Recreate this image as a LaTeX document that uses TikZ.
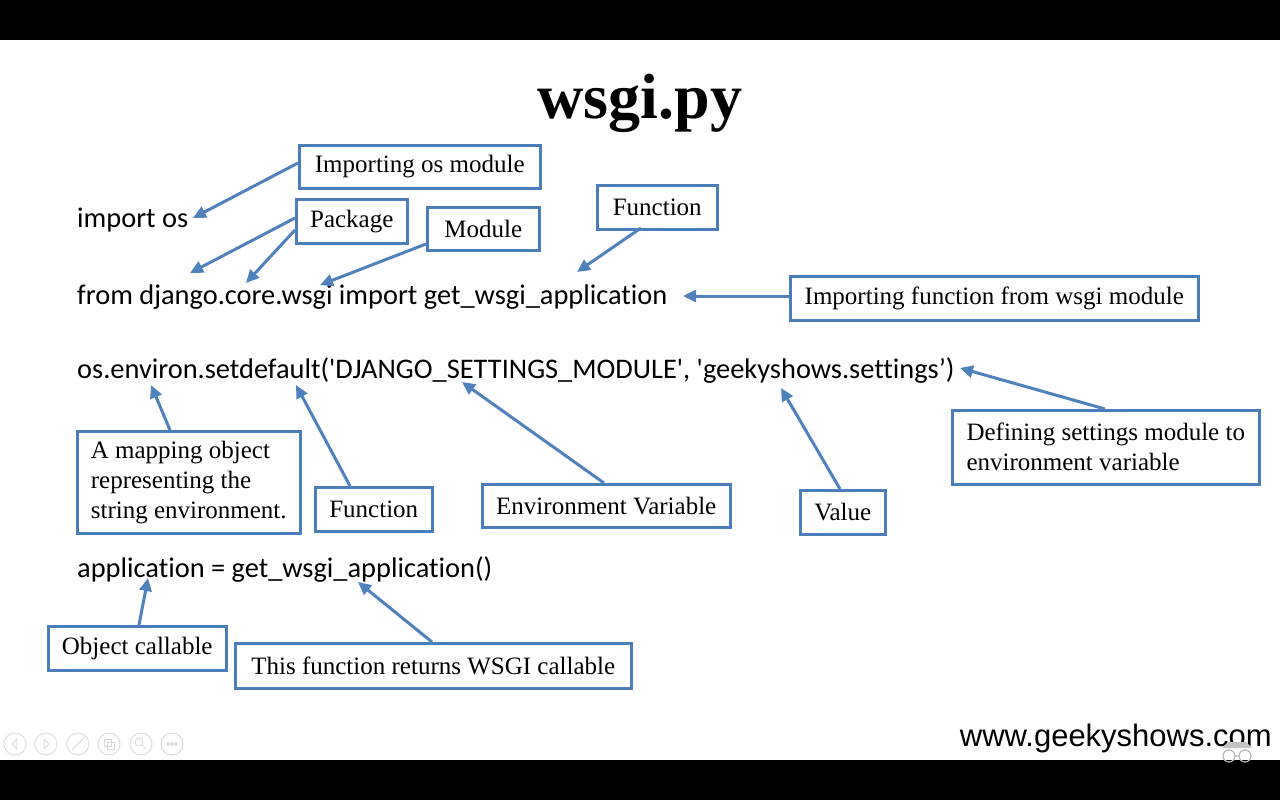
\documentclass[tikz,border=0pt]{standalone}
\usepackage{fontspec}
\setmainfont{Liberation Serif}
\newfontfamily\codefont[Ligatures={NoCommon}]{Carlito}
\newfontfamily\webfont{Liberation Sans}
\usetikzlibrary{arrows.meta}
\definecolor{boxblue}{RGB}{74,126,187}
\definecolor{arrblue}{RGB}{79,129,189}
\definecolor{icongray}{RGB}{215,215,215}
\begin{document}
\begin{tikzpicture}[x=1pt,y=-1pt,
  lbl/.style={draw=boxblue, line width=2.5pt, fill=white, font=\fontsize{25}{30}\selectfont, inner sep=3pt, anchor=north west},
  code/.style={font=\codefont\fontsize{28.4}{34}\selectfont, anchor=base west, inner sep=0pt},
  arr/.style={draw=arrblue, line width=3pt, -{Triangle[length=13pt,width=12pt]}},
  icon/.style={draw=icongray, line width=0.8pt},
]
\useasboundingbox (0,0) rectangle (1280,800);
\fill[white] (0,0) rectangle (1280,800);
\fill[black] (0,0) rectangle (1280,40);
\fill[black] (0,760) rectangle (1280,800);

% title
\node[font=\bfseries\fontsize{64}{70}\selectfont, anchor=base, inner sep=0pt] (title) at (640,118) {wsgi.py};

% code lines
\node[code] (c1) at (77,227) {import os};
\node[code] (c2) at (77,304) {from django.core.wsgi import get\_wsgi\_application};
\node[code] (c3) at (77,378) {os.environ.setdefault('DJANGO\_SETTINGS\_MODULE', 'geekyshows.settings’)};
\node[code] (c4) at (77,577) {application = get\_wsgi\_application()};

% label boxes
\node[lbl, minimum width=241pt, minimum height=43pt] (b1) at (298,144) {Importing os module};
\node[lbl, minimum width=111pt, minimum height=44pt] (b2) at (295,198) {Package};
\node[lbl, minimum width=112pt, minimum height=43pt] (b3) at (426,206) {Module};
\node[lbl, minimum width=120pt, minimum height=44pt] (b4) at (596,184) {Function};
\node[lbl, minimum width=408pt, minimum height=44pt] (b5) at (789,275) {Importing function from wsgi module};
\node[lbl, minimum width=223pt, minimum height=102pt, align=left] (b6) at (76,430) {A mapping object\\representing the\\string environment.};
\node[lbl, minimum width=117pt, minimum height=44pt] (b7) at (314,486) {Function};
\node[lbl, minimum width=248pt, minimum height=43pt] (b8) at (481,483) {Environment Variable};
\node[lbl, minimum width=85pt, minimum height=44pt] (b9) at (799,489) {Value};
\node[lbl, minimum width=307pt, minimum height=74pt, align=left] (b10) at (951,409) {Defining settings module to\\environment variable};
\node[lbl, minimum width=178pt, minimum height=44pt] (b11) at (47,625) {Object callable};
\node[lbl, minimum width=396pt, minimum height=45pt] (b12) at (234,642) {This function returns WSGI callable};

% arrow targets
\coordinate (t1) at (193,218);
\coordinate (t2a) at (190,273);
\coordinate (t2b) at (246,283);
\coordinate (t3) at (320,285);
\coordinate (t4) at (577,272);
\coordinate (t5) at (683,296);
\coordinate (t6) at (151,385);
\coordinate (t7) at (296,385);
\coordinate (t8) at (462,382);
\coordinate (t9) at (781,388);
\coordinate (t10) at (960,368);
\coordinate (t11) at (148,578);
\coordinate (t12) at (358,582);

% arrow sources
\coordinate (s1) at (298,163);
\coordinate (s2a) at (295,218);
\coordinate (s2b) at (295,230);
\coordinate (s3) at (426,244);
\coordinate (s4) at (641,228);
\coordinate (s5) at (789,296);
\coordinate (s6) at (170,430);
\coordinate (s7) at (350,486);
\coordinate (s8) at (604,483);
\coordinate (s9) at (840,489);
\coordinate (s10) at (1105,409);
\coordinate (s11) at (139,625);
\coordinate (s12) at (432,642);

\draw[arr] (s1) -- (t1);
\draw[arr] (s2a) -- (t2a);
\draw[arr] (s2b) -- (t2b);
\draw[arr] (s3) -- (t3);
\draw[arr] (s4) -- (t4);
\draw[arr] (s5) -- (t5);
\draw[arr] (s6) -- (t6);
\draw[arr] (s7) -- (t7);
\draw[arr] (s8) -- (t8);
\draw[arr] (s9) -- (t9);
\draw[arr] (s10) -- (t10);
\draw[arr] (s11) -- (t11);
\draw[arr] (s12) -- (t12);

% footer
\node[font=\webfont\fontsize{31}{34}\selectfont, anchor=base east, inner sep=0pt] (web) at (1272,746) {www.geekyshows.com};

% faint logo under .com
\fill[icongray!90!black] (1222,748) -- (1252,748) -- (1246,742) -- (1228,742) -- cycle;
\draw[icon, line width=1.2pt, draw=icongray!85!black] (1229,756) circle (6) (1245,756) circle (6) (1235,756) -- (1239,756);

% faint slideshow controls
\foreach \i/\x in {1/15,2/46,3/78,4/109,5/141,6/172} {
  \draw[icon] (\x,744) circle (11);
}
\draw[icon] (17,739) -- (12,744) -- (17,749) -- cycle;
\draw[icon] (44,739) -- (49,744) -- (44,749) -- cycle;
\draw[icon] (72,750) -- (84,738);
\draw[icon] (104,739) rectangle (111,746) (107,742) rectangle (114,749);
\draw[icon] (139,742) circle (4) (142,745) -- (146,749);
\draw[icon] (168,744) circle (1.5) (172,744) circle (1.5) (176,744) circle (1.5);
\end{tikzpicture}
\end{document}
